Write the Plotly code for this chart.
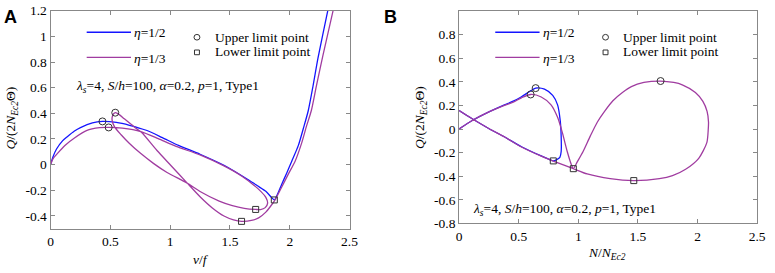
import plotly.graph_objects as go

W, H = 775, 273

# ---------------- Panel A data (v/f vs Q/(2N_Ec2 Θ)) ----------------
a_half_v = [0, 0.02, 0.05, 0.10, 0.14, 0.20, 0.25, 0.35, 0.434, 0.55, 0.66, 0.80, 0.93, 1.07,
            1.25, 1.45, 1.66, 1.73, 1.80, 1.85, 1.871, 1.90, 1.934, 1.975, 2.016, 2.072, 2.113,
            2.154, 2.195, 2.236, 2.318, 2.345]
a_half_q = [0, 0.06, 0.122, 0.185, 0.218, 0.262, 0.289, 0.326, 0.337, 0.329, 0.307, 0.268, 0.213, 0.150,
            0.081, -0.005, -0.122, -0.165, -0.208, -0.258, -0.275, -0.225, -0.150, -0.065, 0.025, 0.150, 0.280,
            0.418, 0.615, 0.830, 1.200, 1.320]

a_third_v = [0, 0.02, 0.06, 0.12, 0.20, 0.30, 0.41, 0.486, 0.60, 0.755, 0.90, 1.05, 1.25, 1.45,
             1.60, 1.70, 1.76, 1.80, 1.815, 1.795, 1.755, 1.715, 1.62, 1.52, 1.41, 1.25, 1.139,
             0.974, 0.86, 0.755, 0.66, 0.59, 0.535, 0.515, 0.518, 0.541, 0.575, 0.617, 0.70, 0.76,
             0.89, 1.01, 1.139, 1.25, 1.35, 1.45, 1.53, 1.597, 1.68, 1.74, 1.80, 1.835, 1.88, 1.93,
             1.99, 2.044, 2.10, 2.14, 2.18, 2.222, 2.277, 2.36, 2.385]
a_third_q = [0, 0.045, 0.09, 0.15, 0.208, 0.265, 0.288, 0.290, 0.284, 0.258, 0.203, 0.142, 0.076, -0.010,
             -0.090, -0.160, -0.210, -0.255, -0.300, -0.335, -0.350, -0.349, -0.340, -0.319, -0.284, -0.209, -0.142,
             -0.061, 0.010, 0.086, 0.165, 0.233, 0.295, 0.345, 0.380, 0.405, 0.390, 0.357, 0.294, 0.252,
             0.110, -0.010, -0.140, -0.250, -0.335, -0.400, -0.430, -0.442, -0.435, -0.415, -0.370, -0.330, -0.270, -0.180,
             -0.070, 0.025, 0.170, 0.300, 0.420, 0.610, 0.850, 1.190, 1.300]

a_upper_v = [0.434, 0.486, 0.541]
a_upper_q = [0.337, 0.290, 0.405]
a_lower_v = [1.871, 1.715, 1.597]
a_lower_q = [-0.275, -0.349, -0.442]

# ---------------- Panel B data (N/N_Ec2 vs Q/(2N_Ec2 Θ)) ----------------
b_half_n = [0, 0.11, 0.25, 0.38, 0.454, 0.52, 0.592, 0.642, 0.716, 0.785, 0.826, 0.848, 0.856,
            0.856, 0.845, 0.815, 0.79, 0.689, 0.523, 0.386, 0.248, 0.11, 0, -0.05]
b_half_q = [0, 0.072, 0.145, 0.205, 0.236, 0.272, 0.318, 0.347, 0.339, 0.285, 0.205, 0.072, -0.060,
            -0.190, -0.240, -0.262, -0.270, -0.228, -0.150, -0.070, 0.005, 0.087, 0.157, 0.190]

b_third_n = [0, 0.11, 0.25, 0.38, 0.454, 0.523, 0.60, 0.689, 0.771, 0.826, 0.867, 0.908, 0.941, 0.958,
             0.99, 1.04, 1.10, 1.16, 1.22, 1.29, 1.37, 1.445, 1.55, 1.69, 1.80, 1.872, 1.982, 2.045,
             2.08, 2.092, 2.09, 2.078, 2.01, 1.90, 1.79, 1.68, 1.465, 1.267, 1.074, 0.958, 0.79,
             0.689, 0.523, 0.386, 0.248, 0.11, 0, -0.05]
b_third_q = [0, 0.072, 0.145, 0.200, 0.228, 0.265, 0.293, 0.272, 0.205, 0.099, -0.035, -0.195, -0.301, -0.336,
             -0.280, -0.190, -0.060, 0.060, 0.150, 0.240, 0.310, 0.360, 0.395, 0.407, 0.395, 0.375, 0.310, 0.235,
             0.150, 0.060, 0.000, -0.115, -0.248, -0.341, -0.395, -0.421, -0.437, -0.421, -0.381, -0.336, -0.272,
             -0.230, -0.152, -0.070, 0.005, 0.087, 0.157, 0.190]

b_upper_n = [0.642, 0.600, 1.690]
b_upper_q = [0.347, 0.293, 0.407]
b_lower_n = [0.790, 0.958, 1.465]
b_lower_q = [-0.270, -0.336, -0.437]

x_ticks = [0, 0.5, 1, 1.5, 2, 2.5]
x_ticktext = ["0", "0.5", "1", "1.5", "2", "2.5"]
a_y_ticks = [-0.4, -0.2, 0, 0.2, 0.4, 0.6, 0.8, 1.0, 1.2]
a_y_ticktext = ["-0.4", "-0.2", "0", "0.2", "0.4", "0.6", "0.8", "1", "1.2"]
b_y_ticks = [-0.8, -0.6, -0.4, -0.2, 0, 0.2, 0.4, 0.6, 0.8]
b_y_ticktext = ["-0.8", "-0.6", "-0.4", "-0.2", "0", "0.2", "0.4", "0.6", "0.8"]

BLUE = "#1414FF"
PURPLE = "#A03CA0"
MK = "#333333"
AX = "#888888"
SERIF = "Liberation Serif"
FS = 13.5


def px(x):
    return x / W


def py(y):
    return 1 - y / H


fig = go.Figure()

line_w = 1.3
for xs, ys, col, xa, ya in [
    (a_half_v, a_half_q, BLUE, "x", "y"),
    (a_third_v, a_third_q, PURPLE, "x", "y"),
    (b_half_n, b_half_q, BLUE, "x2", "y2"),
    (b_third_n, b_third_q, PURPLE, "x2", "y2"),
]:
    fig.add_trace(go.Scatter(x=xs, y=ys, mode="lines", xaxis=xa, yaxis=ya,
                             line=dict(color=col, width=line_w, shape="spline", smoothing=0.7),
                             showlegend=False, hoverinfo="skip"))

for xs, ys, sym, sz, xa, ya in [
    (a_upper_v, a_upper_q, "circle-open", 7, "x", "y"),
    (a_lower_v, a_lower_q, "square-open", 6, "x", "y"),
    (b_upper_n, b_upper_q, "circle-open", 7, "x2", "y2"),
    (b_lower_n, b_lower_q, "square-open", 6, "x2", "y2"),
]:
    fig.add_trace(go.Scatter(x=xs, y=ys, mode="markers", xaxis=xa, yaxis=ya,
                             marker=dict(symbol=sym, size=sz, color=MK, line=dict(width=1, color=MK)),
                             showlegend=False, hoverinfo="skip"))

axis_common = dict(showline=True, linecolor=AX, linewidth=1, mirror="ticks", ticks="inside",
                   ticklen=4, tickcolor=AX, showgrid=False, zeroline=False,
                   ticklabeloverflow="allow",
                   tickfont=dict(family=SERIF, size=FS, color="black"))

fig.update_layout(
    width=W, height=H, margin=dict(l=0, r=0, t=0, b=0),
    font=dict(family=SERIF, size=FS, color="black"),
    paper_bgcolor="white", plot_bgcolor="white",
    xaxis=dict(domain=[px(48.3), px(352)], range=[0, 2.5], tickvals=x_ticks, ticktext=x_ticktext,
               anchor="y", **axis_common),
    yaxis=dict(domain=[py(234.7), py(3.9)], range=[-0.5, 1.2], tickvals=a_y_ticks, ticktext=a_y_ticktext,
               anchor="x", **axis_common),
    xaxis2=dict(domain=[px(463.3), px(766)], range=[0, 2.5], tickvals=x_ticks, ticktext=x_ticktext,
                anchor="y2", **axis_common),
    yaxis2=dict(domain=[py(229), py(4.7)], range=[-0.8, 0.997], tickvals=b_y_ticks, ticktext=b_y_ticktext,
                anchor="x2", **axis_common),
)

ann = []
shapes = []


def text(x, y, s, size=FS, xanchor="left", angle=0, family=SERIF, yanchor="middle"):
    ann.append(dict(x=px(x), y=py(y), xref="paper", yref="paper", text=s, showarrow=False,
                    xanchor=xanchor, yanchor=yanchor, textangle=angle,
                    font=dict(family=family, size=size, color="black")))


ylab = "<i>Q</i>/(2<i>N</i><sub><i>Ec2</i></sub>Θ)"
params = "<i>λ</i><sub><i>s</i></sub>=4, <i>S</i>/<i>h</i>=100, <i>α</i>=0.2, <i>p</i>=1, Type1"

# panel letters
text(7.5, 11, "<b>A</b>", size=18, xanchor="center", family="Liberation Sans")
text(394, 11, "<b>B</b>", size=18, xanchor="center", family="Liberation Sans")

# axis titles
text(9, 117, ylab, xanchor="center", angle=-90)
text(424, 117, ylab, xanchor="center", angle=-90)
text(201, 267, "<i>v</i>/<i>f</i>", xanchor="center")
text(614, 261, "<i>N</i>/<i>N</i><sub><i>Ec2</i></sub>", xanchor="center")

# parameter notes
text(72, 84, params)
text(475, 214, params)

# legends
for ox in (0, 415):
    shapes.append(dict(type="line", xref="paper", yref="paper", x0=px(85 + ox), x1=px(130 + ox),
                       y0=py(26.7), y1=py(26.7), line=dict(color=BLUE, width=1.3)))
    shapes.append(dict(type="line", xref="paper", yref="paper", x0=px(85 + ox), x1=px(130 + ox),
                       y0=py(53.3), y1=py(53.3), line=dict(color=PURPLE, width=1.3)))
    text(131 + ox, 27, "<i>η</i>=1/2")
    text(131 + ox, 54, "<i>η</i>=1/3")
    cx = 197 + ox
    shapes.append(dict(type="circle", xref="paper", yref="paper", x0=px(cx - 3), x1=px(cx + 3),
                       y0=py(32 + 3), y1=py(32 - 3), line=dict(color=MK, width=1)))
    shapes.append(dict(type="rect", xref="paper", yref="paper", x0=px(cx - 2.5), x1=px(cx + 2.5),
                       y0=py(48 + 2.5), y1=py(48 - 2.5), line=dict(color=MK, width=1)))
    text(213 + ox, 32, "Upper limit point")
    text(213 + ox, 47.5, "Lower limit point")

fig.update_layout(annotations=ann, shapes=shapes)
fig.write_html("out.html", config={"displayModeBar": False},
               post_script="document.body.style.margin='0';document.body.style.overflow='hidden';")
